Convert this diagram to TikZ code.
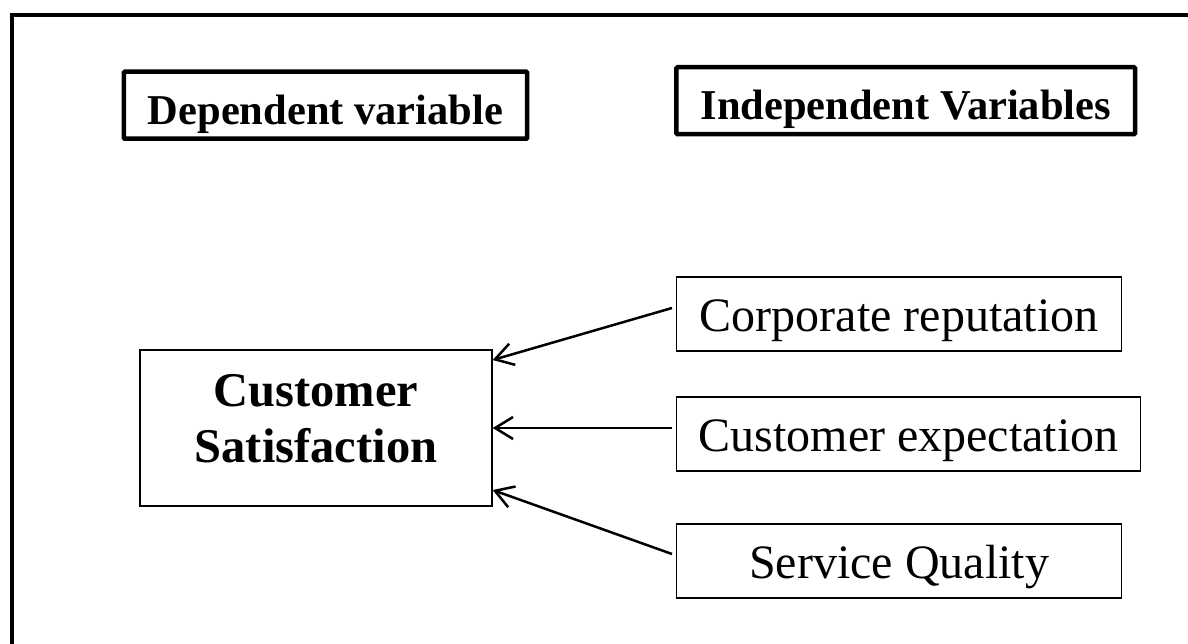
\documentclass[tikz,border=0pt]{standalone}
\usepackage{fontspec}
\setmainfont{Liberation Serif}
\usetikzlibrary{arrows.meta}

\begin{document}
\begin{tikzpicture}[x=1pt, y=-1pt, >={Straight Barb[length=18pt, width=22pt]},
  head/.style={draw, line width=4.5pt, rounded corners=1pt, inner xsep=24pt, inner ysep=0pt, text height=52.5pt, text depth=14.5pt, font=\fontsize{42.5}{48}\selectfont\bfseries},
  var/.style={draw, line width=1.3pt, anchor=west, minimum width=445pt, minimum height=74pt, inner xsep=22pt, text height=37pt, text depth=1.5pt, font=\fontsize{48}{56}\selectfont},
  target/.style={draw, line width=1.3pt, minimum width=352pt, minimum height=156pt, align=center, text depth=19pt, font=\fontsize{48.5}{56}\selectfont\bfseries},
  link/.style={->, line width=2.5pt}
]
\useasboundingbox (0,0) rectangle (1188,644);
% outer frame, runs off the page on the right and bottom
\draw[line width=4.5pt] (12,15) rectangle (1220,680);

\node[head] (dep) at (325.5,105.25) {Dependent variable};
\node[head] (indep) at (905.75,100.75) {Independent Variables};

\node[target] (sat) at (316,428) {Customer\\Satisfaction};
\node[var] (rep) at (676,314) {Corporate reputation};
\node[var] (expc) at (676,434) {Customer expectation};
\node[var] (qual) at (676,561) {Service Quality};

\draw[link] ([xshift=-4pt, yshift=6pt]rep.west) -- ([yshift=68pt]sat.east);
\draw[link] ([xshift=-4pt, yshift=6pt]expc.west) -- (sat.east);
\draw[link] ([xshift=-4pt, yshift=7pt]qual.west) -- ([yshift=-62pt]sat.east);
\end{tikzpicture}
\end{document}
